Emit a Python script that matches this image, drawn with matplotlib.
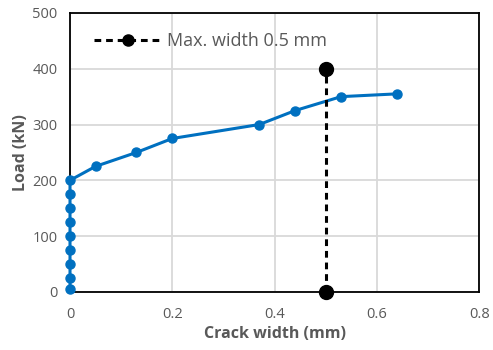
import matplotlib
matplotlib.use("Agg")
import matplotlib.pyplot as plt
from matplotlib.ticker import FuncFormatter

BLUE = "#0070C0"
GRID = "#D9D9D9"
TXT = "#595959"

# measured load vs crack width
crack_width = [0, 0, 0, 0, 0, 0, 0, 0, 0, 0.05, 0.13, 0.2, 0.37, 0.44, 0.53, 0.64]
load = [5, 25, 50, 75, 100, 125, 150, 175, 200, 225, 250, 275, 300, 325, 350, 355]

# allowable crack width marker line
limit_x = [0.5, 0.5]
limit_y = [0, 400]

plt.rcParams["font.family"] = ["Open Sans", "DejaVu Sans"]

fig = plt.figure(figsize=(4.93, 3.5), dpi=100)
ax = fig.add_axes([0.142, 0.166, 0.830, 0.797])

ax.plot(crack_width, load, color=BLUE, lw=2.2, marker="o", ms=6.5,
        zorder=3, clip_on=False)
ax.plot(limit_x, limit_y, color="black", lw=2.2, ls=(0, (2.2, 1.6)),
        marker="o", ms=10, zorder=4, clip_on=False,
        label="Max. width 0.5 mm")

ax.set_xlim(0, 0.8)
ax.set_ylim(0, 500)
ax.set_xticks([0, 0.2, 0.4, 0.6, 0.8])
ax.set_yticks([0, 100, 200, 300, 400, 500])
ax.xaxis.set_major_formatter(FuncFormatter(lambda v, p: "0" if v == 0 else f"{v:g}"))
ax.grid(True, color=GRID, lw=1.3)
ax.set_axisbelow(True)
ax.tick_params(axis="both", length=0, labelsize=10.5, colors=TXT)
ax.tick_params(axis="x", pad=11)
ax.tick_params(axis="y", pad=9)
for s in ax.spines.values():
    s.set_color("black")
    s.set_linewidth(1.3)

ax.set_xlabel("Crack width (mm)", fontsize=11.5, fontweight="bold",
              color=TXT, labelpad=3)
ax.set_ylabel("Load (kN)", fontsize=11.5, fontweight="bold",
              color=TXT, labelpad=2)

leg = ax.legend(loc="upper left", frameon=False, fontsize=13,
                bbox_to_anchor=(0.02, 0.99), handlelength=3.7,
                handletextpad=0.3, markerscale=0.8)
for t in leg.get_texts():
    t.set_color(TXT)

fig.savefig("out.png", dpi=100)
